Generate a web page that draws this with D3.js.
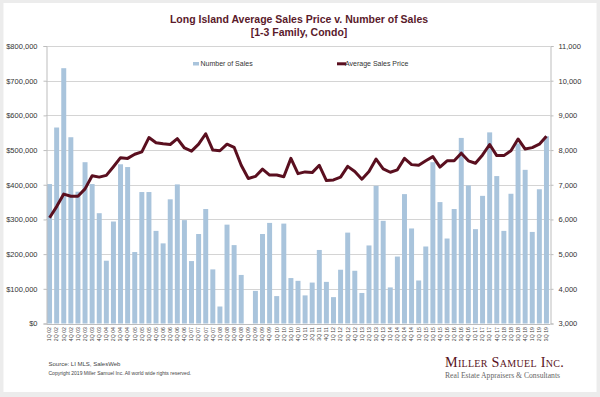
<!DOCTYPE html>
<html><head><meta charset="utf-8">
<script src="https://cdn.jsdelivr.net/npm/d3@7"></script>
<style>body{margin:0;background:#ececec}svg{display:block}</style>
</head><body>
<svg id="c" width="600" height="397"></svg>
<script>
const quarters = [];
for (let y = 2; y <= 19; y++) for (let q = 1; q <= 4; q++) { if (y === 19 && q > 3) break; quarters.push(q + "Q " + String(y).padStart(2, "0")); }

const numberOfSales = [7020,8650,10360,8370,6800,7650,7020,6180,4810,5940,7590,7510,5060,6790,6790,5670,
 5310,6580,7010,5980,4800,5580,6300,4560,3490,5850,5260,4400,null,3940,5580,5900,
 3790,5880,4310,4230,3810,4180,5120,4200,3760,4550,5620,4520,3880,5250,6970,5960,
 4040,4930,6730,5740,4240,5220,7650,6500,5450,6300,8350,6980,5720,6680,8510,7250,
 5670,6740,8190,7430,5640,6870,8400];

const avgSalesPrice = [305000,337000,373000,367000,367000,388000,426000,422000,427000,452000,478000,476000,488000,495000,536000,521000,
 518000,516000,533000,506000,497000,517000,547000,500000,498000,517000,508000,456000,418000,424000,445000,428000,
 428000,423000,476000,432000,437000,435000,456000,412000,414000,422000,453000,438000,416000,438000,474000,446000,
 436000,443000,476000,458000,456000,469000,481000,451000,469000,469000,491000,469000,462000,486000,516000,484000,
 484000,498000,532000,503000,507000,517000,540000];

const leftTicks = [0,100000,200000,300000,400000,500000,600000,700000,800000];
const rightTicks = [3000,4000,5000,6000,7000,8000,9000,10000,11000];
const titleLines = ["Long Island Average Sales Price v. Number of Sales","[1-3 Family, Condo]"];
const seriesNames = ["Number of Sales","Average Sales Price"];

const svg = d3.select("#c");
const W = 600, H = 397;
const plot = {l:46, r:550, t:46, b:323.5};
const barColor = "#a9c4dc", lineColor = "#5a0f1f", titleColor = "#5a1a2b";
const font = "'Liberation Sans', Arial, sans-serif";

// card
svg.append("rect").attr("x",0).attr("y",0).attr("width",W).attr("height",H).attr("fill","#ececec");
svg.append("rect").attr("x",3.5).attr("y",3).attr("width",593).attr("height",389).attr("fill","#fff");

const x = d3.scaleBand().domain(quarters).range([plot.l, plot.r]).paddingInner(0.3).paddingOuter(0.15);
const yL = d3.scaleLinear().domain([0,800000]).range([plot.b, plot.t]);
const yR = d3.scaleLinear().domain([3000,11000]).range([plot.b, plot.t]);

// grid
svg.append("g").selectAll("line").data(leftTicks.slice(1)).join("line")
  .attr("x1",plot.l).attr("x2",plot.r).attr("y1",d=>Math.round(yL(d))+0.5).attr("y2",d=>Math.round(yL(d))+0.5)
  .attr("stroke","#d4d4d4").attr("stroke-width",1);

// bars
svg.append("g").selectAll("rect").data(quarters.map((q,i)=>({q,v:numberOfSales[i]})).filter(d=>d.v!=null)).join("rect")
  .attr("x",d=>x(d.q)).attr("width",x.bandwidth())
  .attr("y",d=>yR(d.v)).attr("height",d=>yR(3000)-yR(d.v)).attr("fill",barColor);

// left axis
const axL = d3.axisLeft(yL).tickValues(leftTicks).tickSize(3).tickPadding(6).tickFormat(d=>"$"+d3.format(",")(d));
const gL = svg.append("g").attr("transform",`translate(${plot.l+0.5},0)`).call(axL);
// right axis
const axR = d3.axisRight(yR).tickValues(rightTicks).tickSize(3).tickPadding(5).tickFormat(d3.format(","));
const gR = svg.append("g").attr("transform",`translate(${plot.r+0.5},0)`).call(axR);
[gL,gR].forEach(g=>{
  g.select(".domain").attr("stroke","#bdbdbd");
  g.selectAll(".tick line").attr("stroke","#bdbdbd");
  g.selectAll("text").attr("font-family",font).attr("font-size",7.5).attr("fill","#333");
});

// x axis
const axX = d3.axisBottom(x).tickSize(0).tickPadding(3);
const gX = svg.append("g").attr("transform",`translate(0,${plot.b+0.5})`).call(axX);
gX.select(".domain").attr("stroke","#bdbdbd");
gX.selectAll(".tick text").attr("font-family",font).attr("font-size",5.2).attr("fill","#444")
  .attr("transform","rotate(-90)").attr("text-anchor","end").attr("dy","0.35em").attr("x",-3).attr("y",0);

// line
const line = d3.line().x((d,i)=>x(quarters[i])+x.bandwidth()/2).y(d=>yL(d)).curve(d3.curveLinear);
svg.append("path").datum(avgSalesPrice).attr("d",line).attr("fill","none")
  .attr("stroke",lineColor).attr("stroke-width",3).attr("stroke-linejoin","round");

// title
svg.append("g").selectAll("text").data(titleLines).join("text")
  .attr("x",299).attr("y",(d,i)=>23+i*13).attr("text-anchor","middle")
  .attr("font-family",font).attr("font-weight","bold").attr("font-size",10.5).attr("fill",titleColor).text(d=>d);

// legend
const lg = svg.append("g");
lg.append("rect").attr("x",193).attr("y",62).attr("width",6).attr("height",3.5).attr("fill",barColor);
lg.append("text").attr("x",200.5).attr("y",66.3).attr("font-family",font).attr("font-size",7).attr("fill","#333").text(seriesNames[0]);
lg.append("rect").attr("x",337).attr("y",62.3).attr("width",9).attr("height",3).attr("fill",lineColor);
lg.append("text").attr("x",345).attr("y",66.3).attr("font-family",font).attr("font-size",7).attr("fill","#333").text(seriesNames[1]);

// footer
svg.append("text").attr("x",48.5).attr("y",366).attr("font-family",font).attr("font-size",6).attr("fill","#444").text("Source:  LI MLS, SalesWeb");
svg.append("text").attr("x",48.5).attr("y",375).attr("font-family",font).attr("font-size",5).attr("fill","#444").text("Copyright 2019 Miller Samuel Inc.  All world wide rights reserved.");

// logo
svg.append("text").attr("x",445).attr("y",366.5).attr("font-family","'Liberation Serif', 'DejaVu Serif', serif")
  .attr("font-size",14.2).attr("font-variant","small-caps").attr("fill","#5a1322").attr("letter-spacing",0.3).text("Miller Samuel Inc.");
svg.append("text").attr("x",445).attr("y",377.8).attr("font-family","'Liberation Serif', 'DejaVu Serif', serif")
  .attr("font-size",7.65).attr("fill","#666").text("Real Estate Appraisers & Consultants");
</script>
</body></html>
